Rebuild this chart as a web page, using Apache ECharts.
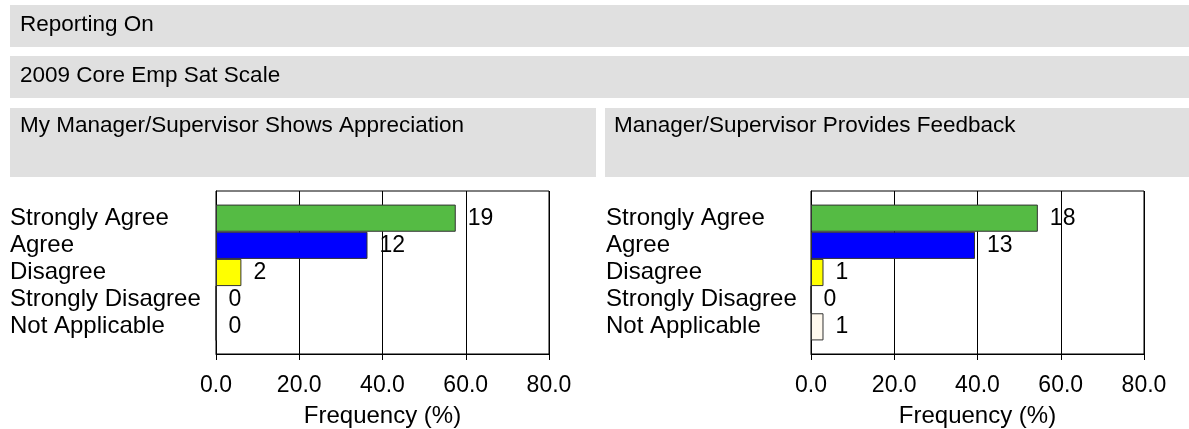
<!DOCTYPE html>
<html><head><meta charset="utf-8">
<script src="https://cdn.jsdelivr.net/npm/echarts@6/dist/echarts.min.js"></script>
<style>html,body{margin:0;padding:0;background:#fff}#c{width:1189px;height:429px}</style>
</head><body><div id="c"></div>
<script>
const categories = ['Strongly Agree', 'Agree', 'Disagree', 'Strongly Disagree', 'Not Applicable'];
const barColors = ['#55BB44', '#0000FF', '#FFFF00', '#FFFFFF', '#FFF9EE'];
const titleMain = 'Reporting On';
const titleScale = '2009 Core Emp Sat Scale';
const leftTitle = 'My Manager/Supervisor Shows Appreciation';
const rightTitle = 'Manager/Supervisor Provides Feedback';
const leftCounts = [19, 12, 2, 0, 0];
const leftPercents = [57.6, 36.4, 6.1, 0, 0];
const rightCounts = [18, 13, 1, 0, 1];
const rightPercents = [54.5, 39.4, 3.0, 0, 3.0];
const xMin = 0, xMax = 80, xStep = 20;
const xAxisName = 'Frequency (%)';

const FONT = '"Liberation Sans", Arial, Helvetica, sans-serif';
const GRAY = '#E0E0E0';

const paddedCats = [''].concat(categories, ['']);

function barData(percents, counts) {
  const d = ['-'];
  percents.forEach((v, i) => d.push({ value: v, count: counts[i], itemStyle: { color: barColors[i] } }));
  d.push('-');
  return d;
}

function xAxisCfg(gi) {
  return {
    gridIndex: gi, type: 'value', min: xMin, max: xMax, interval: xStep,
    name: xAxisName, nameLocation: 'middle', nameGap: 50,
    nameTextStyle: { fontFamily: FONT, fontSize: 24, color: '#000' },
    axisLine: { show: true, lineStyle: { color: '#000', width: 1 } },
    axisTick: { show: true, length: 6, lineStyle: { color: '#000' } },
    splitLine: { show: true, lineStyle: { color: '#000', width: 1 } },
    axisLabel: { fontFamily: FONT, fontSize: 23, color: '#000', margin: 20, formatter: v => v.toFixed(1) }
  };
}
function yAxisCfg(gi, margin) {
  return {
    gridIndex: gi, type: 'category', data: paddedCats, inverse: true, boundaryGap: false,
    axisLine: { show: true, lineStyle: { color: '#000', width: 1 } },
    axisTick: { show: false },
    splitLine: { show: false },
    axisLabel: { fontFamily: FONT, fontSize: 24, color: '#000', align: 'left', margin: margin, interval: 0, padding: [5, 0, 0, 0] }
  };
}
function seriesCfg(gi, percents, counts) {
  return {
    type: 'bar', xAxisIndex: gi, yAxisIndex: gi,
    data: barData(percents, counts),
    barCategoryGap: '0%',
    itemStyle: { borderColor: '#333', borderWidth: 1 },
    label: {
      show: true, position: 'right', distance: 12,
      fontFamily: FONT, fontSize: 23, color: '#000', padding: [5, 0, 0, 0],
      formatter: p => String(p.data.count)
    },
    emphasis: { disabled: true },
    animation: false
  };
}

function headerText(x, y, text) {
  return { type: 'text', x: x, y: y, z: 1,
    style: { text: text, fontFamily: FONT, fontSize: 22.5, fill: '#000', verticalAlign: 'middle', align: 'left' } };
}

const chart = echarts.init(document.getElementById('c'), null, { renderer: 'canvas' });
chart.setOption({
  animation: false,
  backgroundColor: '#fff',
  graphic: [
    { type: 'rect', shape: { x: 10, y: 5, width: 1179, height: 42 }, style: { fill: GRAY }, z: 0 },
    { type: 'rect', shape: { x: 10, y: 56, width: 1179, height: 42 }, style: { fill: GRAY }, z: 0 },
    { type: 'rect', shape: { x: 10, y: 108, width: 586, height: 69 }, style: { fill: GRAY }, z: 0 },
    { type: 'rect', shape: { x: 605, y: 108, width: 584, height: 69 }, style: { fill: GRAY }, z: 0 },
    headerText(20, 25, titleMain),
    headerText(20, 76, titleScale),
    headerText(20, 126, leftTitle),
    headerText(614, 126, rightTitle)
  ],
  grid: [
    { left: 216, top: 191, width: 333, height: 166, show: true, borderColor: '#000', borderWidth: 1, backgroundColor: 'transparent' },
    { left: 811, top: 191, width: 333, height: 166, show: true, borderColor: '#000', borderWidth: 1, backgroundColor: 'transparent' }
  ],
  xAxis: [xAxisCfg(0), xAxisCfg(1)],
  yAxis: [yAxisCfg(0, 206), yAxisCfg(1, 205)],
  series: [seriesCfg(0, leftPercents, leftCounts), seriesCfg(1, rightPercents, rightCounts)]
});
</script>
</body></html>
